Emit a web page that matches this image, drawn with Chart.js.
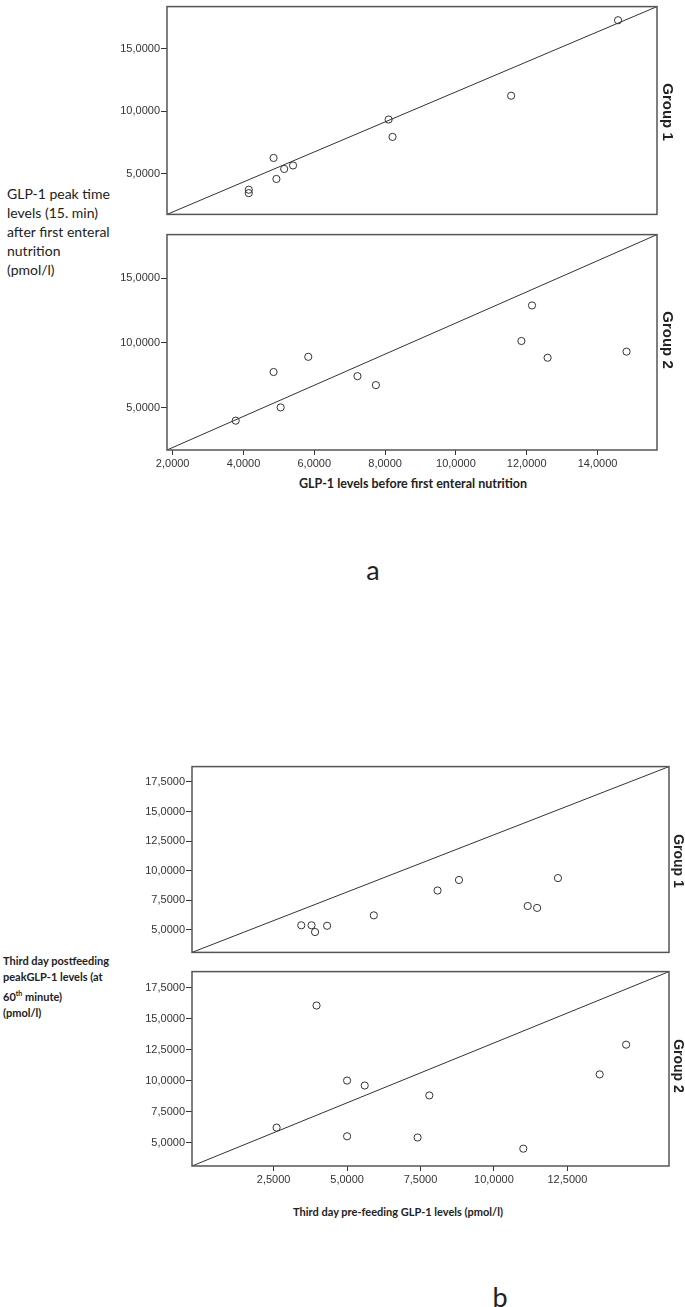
<!DOCTYPE html>
<html lang="en">
<head>
<meta charset="UTF-8">
<title>GLP-1 scatter panels</title>
<script src="https://cdn.jsdelivr.net/npm/chart.js"></script>
<style>
  body { margin:0; background:#fff; width:685px; height:1307px; position:relative; overflow:hidden; }
  canvas { position:absolute; }
  .txt { position:absolute; color:#222; white-space:nowrap; }
  .ytitleA { left:7px; top:184px; font:14px Lato, sans-serif; line-height:19px; white-space:normal; }
  .ytitleB { left:3px; top:953px; font:bold 11px Lato, sans-serif; line-height:16px; }
  .grp { position:absolute; font:bold 15px 'Liberation Sans', Arial, sans-serif; color:#222;
         transform:translate(-50%,-50%) rotate(90deg); white-space:nowrap; }
</style>
</head>
<body>
<canvas id="a1"></canvas>
<canvas id="a2"></canvas>
<canvas id="b1"></canvas>
<canvas id="b2"></canvas>

<div class="txt ytitleA">GLP-1 peak time<br>levels (15. min)<br>after first enteral<br>nutrition<br>(pmol/l)</div>
<div class="txt" style="left:413px;top:476px;transform:translateX(-50%);font:bold 12.5px Lato, sans-serif;">GLP-1 levels before first enteral nutrition</div>
<div class="txt" style="left:373px;top:553px;transform:translateX(-50%);font:27px Lato, sans-serif;">a</div>
<div class="grp" style="left:668px;top:112px;">Group 1</div>
<div class="grp" style="left:668px;top:340px;">Group 2</div>

<div class="txt ytitleB">Third day postfeeding<br>peakGLP-1 levels (at<br>60<sup style="font-size:7px;">th</sup> minute)<br>(pmol/l)</div>
<div class="txt" style="left:398px;top:1205px;transform:translateX(-50%);font:bold 11px Lato, sans-serif;">Third day pre-feeding GLP-1 levels (pmol/l)</div>
<div class="txt" style="left:500px;top:1280px;transform:translateX(-50%);font:27px Lato, sans-serif;">b</div>
<div class="grp" style="left:679px;top:861px;font-size:14px;">Group 1</div>
<div class="grp" style="left:679px;top:1066px;font-size:14px;">Group 2</div>

<script>
// figure a
const aXTicks = [2, 4, 6, 8, 10, 12, 14];
const aYTicks = [5, 10, 15];
const aRangeX = [1.84, 15.68];
const aRangeY = [1.75, 18.35];
const aG1X = [4.85, 5.15, 5.40, 4.93, 4.15, 4.15, 8.10, 8.21, 11.56, 14.58];
const aG1Y = [6.26, 5.38, 5.66, 4.58, 3.72, 3.45, 9.33, 7.94, 11.23, 17.26];
const aG2X = [3.78, 4.85, 5.83, 5.05, 7.22, 7.74, 12.15, 11.85, 12.59, 14.82];
const aG2Y = [4.01, 7.76, 8.93, 5.03, 7.44, 6.75, 12.89, 10.15, 8.86, 9.33];

// figure b
const bXTicks = [2.5, 5, 7.5, 10, 12.5];
const bYTicks = [5, 7.5, 10, 12.5, 15, 17.5];
const bRangeX = [-0.28, 15.96];
const bRangeY = [3.1, 18.8];
const bG1X = [3.44, 3.79, 3.91, 4.32, 5.91, 8.08, 8.81, 11.15, 11.47, 12.18];
const bG1Y = [5.39, 5.39, 4.82, 5.35, 6.23, 8.33, 9.22, 7.02, 6.86, 9.38];
const bG2X = [3.96, 5.0, 5.6, 7.8, 2.6, 5.0, 7.4, 11.0, 13.6, 14.5];
const bG2Y = [16.06, 10.0, 9.6, 8.8, 6.2, 5.5, 5.4, 4.5, 10.5, 12.9];

const fmt = v => v.toFixed(4).replace('.', ',');

const frame = {
  id: 'frame',
  afterDraw(chart) {
    const { ctx, chartArea: a } = chart;
    ctx.save();
    ctx.strokeStyle = '#555';
    ctx.lineWidth = 1.5;
    ctx.strokeRect(a.left, a.top, a.right - a.left, a.bottom - a.top);
    ctx.restore();
  }
};

function makePanel(id, o) {
  const yW = 52, xH = o.showX ? 24 : 0, padT = 2, padR = 3;
  const cv = document.getElementById(id);
  const w = yW + (o.box.r - o.box.l) + padR;
  const h = padT + (o.box.b - o.box.t) + xH + 1;
  cv.width = w; cv.height = h;
  cv.style.left = (o.box.l - yW) + 'px';
  cv.style.top = (o.box.t - padT) + 'px';

  const axisTicks = (vals) => (s) => { s.ticks = vals.map(v => ({ value: v })); };
  const tickFont = { family: "'Liberation Sans', Arial, sans-serif", size: 11 };

  new Chart(cv, {
    data: {
      datasets: [
        {
          type: 'line',
          data: [{ x: o.rx[0], y: o.ry[0] }, { x: o.rx[1], y: o.ry[1] }],
          borderColor: '#333', borderWidth: 1, pointRadius: 0, fill: false
        },
        {
          type: 'scatter',
          data: o.xs.map((x, i) => ({ x, y: o.ys[i] })),
          pointStyle: 'circle', pointRadius: 3.6, borderWidth: 1,
          borderColor: '#333', backgroundColor: 'rgba(255,255,255,0)'
        }
      ]
    },
    options: {
      responsive: false, animation: false,
      layout: { padding: { top: padT, right: padR, left: 0, bottom: 1 } },
      plugins: { legend: { display: false }, tooltip: { enabled: false } },
      scales: {
        x: {
          type: 'linear', min: o.rx[0], max: o.rx[1], display: o.showX,
          afterBuildTicks: axisTicks(o.xt),
          afterFit: s => { s.height = xH; },
          border: { display: false },
          grid: { drawOnChartArea: false, drawTicks: true, tickLength: 5, color: '#333' },
          ticks: { callback: fmt, color: '#333', font: tickFont, padding: 2, maxRotation: 0, autoSkip: false }
        },
        y: {
          type: 'linear', min: o.ry[0], max: o.ry[1],
          afterBuildTicks: axisTicks(o.yt),
          afterFit: s => { s.width = yW; },
          border: { display: false },
          grid: { drawOnChartArea: false, drawTicks: true, tickLength: 6, color: '#333' },
          ticks: { callback: fmt, color: '#333', font: tickFont, padding: 1, autoSkip: false }
        }
      }
    },
    plugins: [frame]
  });
}

makePanel('a1', { box: { l: 167, t: 1, r: 659, b: 221 }, rx: aRangeX, ry: aRangeY, xt: aXTicks, yt: aYTicks, xs: aG1X, ys: aG1Y, showX: false });
makePanel('a2', { box: { l: 167, t: 229, r: 659, b: 450 }, rx: aRangeX, ry: aRangeY, xt: aXTicks, yt: aYTicks, xs: aG2X, ys: aG2Y, showX: true });
makePanel('b1', { box: { l: 192, t: 761, r: 671, b: 959 }, rx: bRangeX, ry: bRangeY, xt: bXTicks, yt: bYTicks, xs: bG1X, ys: bG1Y, showX: false });
makePanel('b2', { box: { l: 192, t: 966, r: 671, b: 1166 }, rx: bRangeX, ry: bRangeY, xt: bXTicks, yt: bYTicks, xs: bG2X, ys: bG2Y, showX: true });
</script>
</body>
</html>
